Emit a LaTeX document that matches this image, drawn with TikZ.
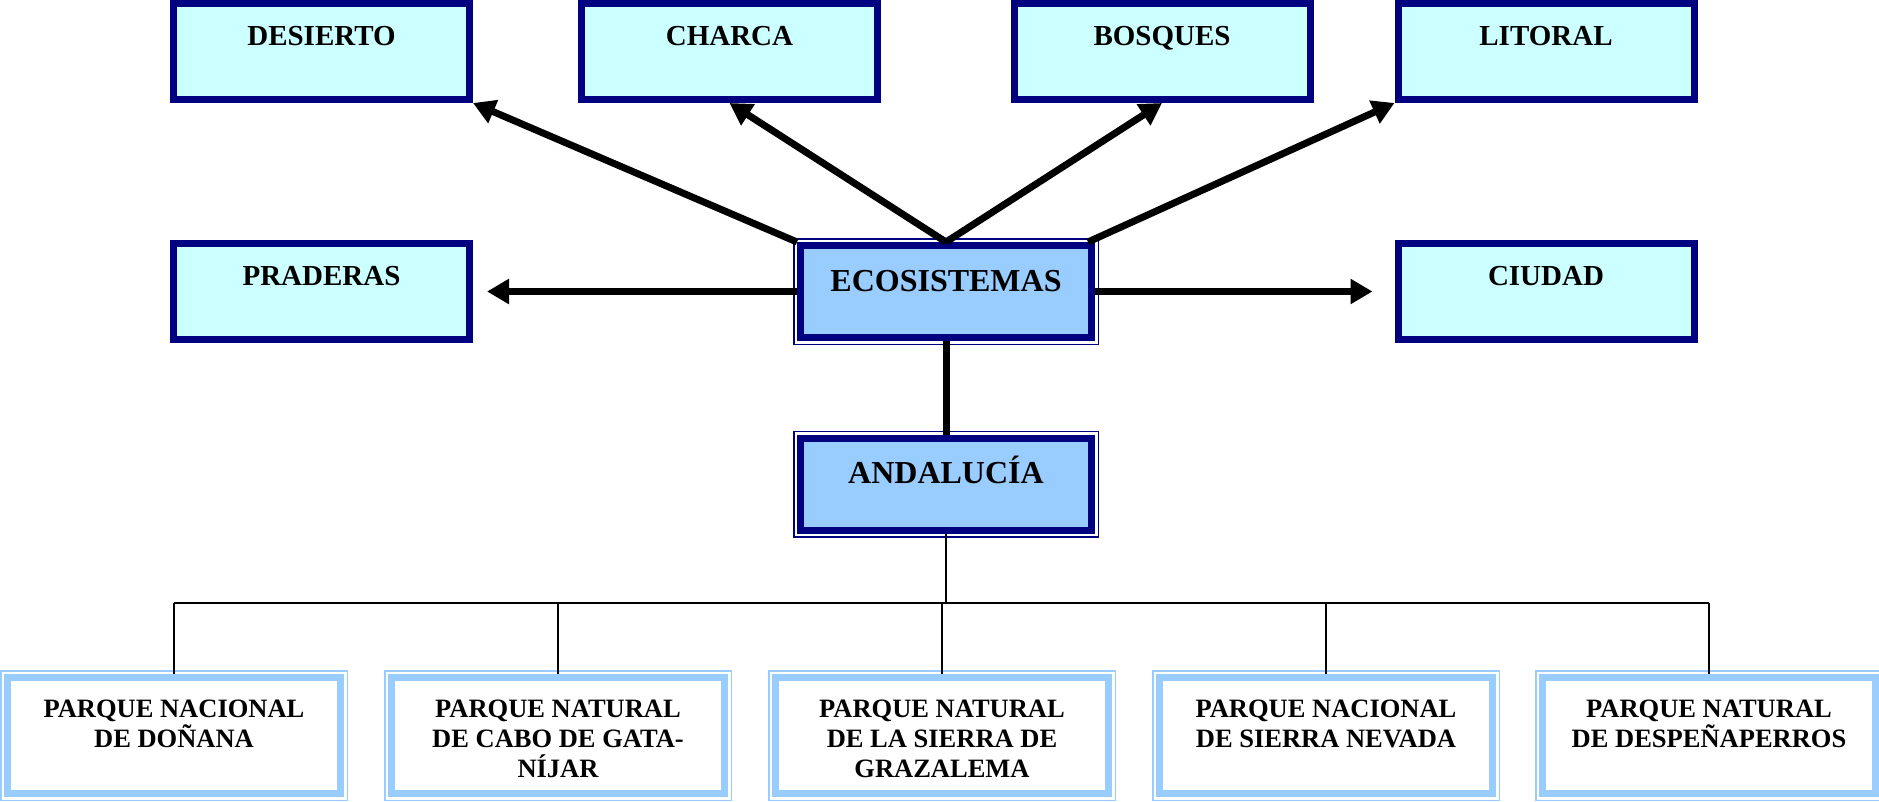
\documentclass[tikz,border=0pt]{standalone}
\usepackage{fontspec}
\setmainfont{Liberation Serif}
\usetikzlibrary{arrows.meta}
\definecolor{azulmarino}{HTML}{000080}
\definecolor{celeste}{HTML}{CCFFFF}
\definecolor{azulclaro}{HTML}{99CCFF}
\begin{document}
\begin{tikzpicture}[x=1pt,y=-1pt]
\tikzstyle{caja}=[draw=azulmarino,fill=celeste,line width=7pt,minimum width=296pt,minimum height=96pt,inner sep=0pt]
\tikzstyle{caja central}=[draw=azulmarino,fill=azulclaro,line width=7pt,minimum width=291pt,minimum height=92pt,inner sep=0pt]
\tikzstyle{parque}=[draw=azulclaro,fill=white,line width=7pt,minimum width=333pt,minimum height=116pt,inner sep=0pt]
\tikzstyle{texto}=[font=\bfseries\fontsize{29}{33}\selectfont,anchor=base,inner sep=0pt]
\tikzstyle{texto grande}=[font=\bfseries\fontsize{32}{36}\selectfont,anchor=base,inner sep=0pt]
\tikzstyle{texto parque}=[font=\bfseries\fontsize{26.5}{30}\selectfont,align=center,anchor=north,inner sep=0pt]
\tikzstyle{flecha}=[line width=7pt,-{Triangle[length=22pt,width=24pt]}]
\tikzstyle{rama}=[line width=1.5pt]

\useasboundingbox (0,0) rectangle (1879,801);

% ecosistemas
\node[caja] (desierto) at (321.5,51.5) {};
\node[caja] (charca) at (729.5,51.5) {};
\node[caja] (bosques) at (1162,51.5) {};
\node[caja] (litoral) at (1546,51.5) {};
\node[caja] (praderas) at (321.5,291.5) {};
\node[caja] (ciudad) at (1546,291.5) {};
\node[texto] (desierto-t) at ([yshift=-45pt]desierto.north) {DESIERTO};
\node[texto] (charca-t) at ([yshift=-45pt]charca.north) {CHARCA};
\node[texto] (bosques-t) at ([yshift=-45pt]bosques.north) {BOSQUES};
\node[texto] (litoral-t) at ([yshift=-45pt]litoral.north) {LITORAL};
\node[texto] (praderas-t) at ([yshift=-45pt]praderas.north) {PRADERAS};
\node[texto] (ciudad-t) at ([yshift=-45pt]ciudad.north) {CIUDAD};

\node[caja central] (eco) at (946,291.5) {};
\node[caja central] (andalucia) at (946,484) {};
\node[texto grande] (eco-t) at ([yshift=-49pt]eco.north) {ECOSISTEMAS};
\node[texto grande] (andalucia-t) at ([yshift=-49pt]andalucia.north) {ANDALUCÍA};

% parques
\node[parque] (p1) at (174,735.5) {};
\node[parque] (p2) at (558,735.5) {};
\node[parque] (p3) at (942,735.5) {};
\node[parque] (p4) at (1326,735.5) {};
\node[parque] (p5) at (1709,735.5) {};
\node[texto parque] (p1-t) at ([yshift=-25.5pt]p1.north) {PARQUE NACIONAL\\DE DOÑANA};
\node[texto parque] (p2-t) at ([yshift=-25.5pt]p2.north) {PARQUE NATURAL\\DE CABO DE GATA-\\NÍJAR};
\node[texto parque] (p3-t) at ([yshift=-25.5pt]p3.north) {PARQUE NATURAL\\DE LA SIERRA DE\\GRAZALEMA};
\node[texto parque] (p4-t) at ([yshift=-25.5pt]p4.north) {PARQUE NACIONAL\\DE SIERRA NEVADA};
\node[texto parque] (p5-t) at ([yshift=-25.5pt]p5.north) {PARQUE NATURAL\\DE DESPEÑAPERROS};

% marcos dobles
\foreach \n/\c in {eco/azulmarino,andalucia/azulmarino,p1/azulclaro,p2/azulclaro,p3/azulclaro,p4/azulclaro,p5/azulclaro}
  \draw[\c,line width=1.5pt] ([shift={(-3.25,-3.25)}]\n.north west) rectangle ([shift={(3.25,3.25)}]\n.south east);

\draw[flecha] (eco.north west) -- (desierto.south east);
\draw[flecha] (eco.north) -- (charca.south);
\draw[flecha] (eco.north) -- (bosques.south);
\draw[flecha] ([xshift=-7pt]eco.north east) -- (litoral.south west);
\draw[flecha,shorten >=14pt] (eco.west) -- (praderas.east);
\draw[flecha,shorten >=22pt] (eco.east) -- (ciudad.west);
\draw[line width=7pt] (eco.south) -- (andalucia.north);

\coordinate (bus) at (946,603);
\draw[rama] (andalucia.south) -- (bus);
\draw[rama] (bus -| p1.north) -- (bus -| p5.north);
\foreach \p in {p1,p2,p3,p4,p5}
  \draw[rama] (bus -| \p.north) -- (\p.north);
\end{tikzpicture}
\end{document}
